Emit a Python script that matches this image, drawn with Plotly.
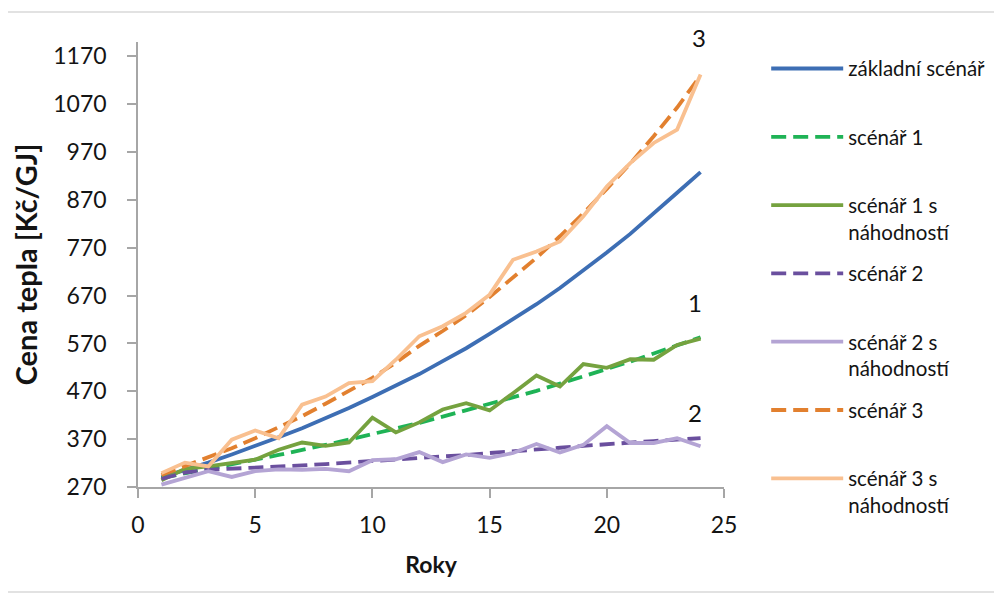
import plotly.graph_objects as go

years = list(range(1, 25))
zakladni = [290, 305, 321, 338, 355, 374, 393, 413, 435, 458, 481, 506, 533, 560, 590, 620, 652, 686, 722, 760, 799, 841, 885, 928]
scenar1 = [289, 298, 307, 317, 327, 337, 347, 358, 369, 380, 392, 404, 417, 430, 443, 457, 471, 486, 501, 516, 532, 549, 566, 583]
scenar1_nah = [284, 308, 313, 320, 327, 348, 363, 356, 363, 415, 384, 405, 432, 445, 430, 466, 503, 480, 527, 519, 537, 536, 567, 580]
scenar2 = [287, 300, 306, 308, 310, 312, 315, 318, 321, 324, 327, 330, 334, 337, 341, 344, 348, 352, 356, 360, 363, 366, 369, 372]
scenar2_nah = [275, 289, 303, 291, 303, 307, 306, 308, 303, 326, 328, 343, 322, 338, 331, 341, 360, 342, 358, 397, 362, 362, 372, 355]
scenar3 = [295, 313, 331, 351, 372, 395, 418, 444, 470, 498, 530, 565, 596, 629, 667, 707, 749, 794, 842, 893, 946, 1003, 1063, 1130]
scenar3_nah = [299, 321, 313, 369, 388, 372, 442, 459, 487, 491, 536, 585, 606, 634, 672, 745, 762, 783, 836, 898, 947, 989, 1017, 1132]

y_ticks = [270, 370, 470, 570, 670, 770, 870, 970, 1070, 1170]
x_ticks = [0, 5, 10, 15, 20, 25]

series = [
    ("základní scénář<br> ", zakladni, "#3d6eb4", None),
    ("scénář 1<br> ", scenar1, "#1fb356", "15px,7px"),
    ("scénář 1 s<br>náhodností", scenar1_nah, "#75a23f", None),
    ("scénář 2<br> ", scenar2, "#6a4f9e", "15px,7px"),
    ("scénář 2 s<br>náhodností", scenar2_nah, "#b4a4d4", None),
    ("scénář 3<br> ", scenar3, "#e2802f", "15px,7px"),
    ("scénář 3 s<br>náhodností", scenar3_nah, "#f9c090", None),
]

labels = [("1", 23.75, 655, "y"), ("2", 23.75, 425, "y"), ("3", 23.95, 1.009, "paper")]

FONT = "Lato"
fig = go.Figure()
for i, (name, vals, color, dash) in enumerate(series):
    fig.add_trace(go.Scatter(
        x=years, y=vals, mode="lines", name=name, legendgroup=f"g{i}",
        line=dict(color=color, width=3.8, dash=dash),
    ))

for txt, lx, ly, yr in labels:
    fig.add_annotation(x=lx, y=ly, xref="x", yref=yr, text=txt, showarrow=False,
                       yanchor="middle", xanchor="center",
                       font=dict(family=FONT, size=24, color="#111111"))

fig.add_shape(type="rect", xref="paper", yref="paper",
              x0=-0.2235, x1=1.4625, y0=-0.236, y1=1.0674,
              line=dict(color="#d9d9d9", width=1.5), fillcolor="rgba(0,0,0,0)", layer="below")

fig.update_layout(
    width=1002, height=601,
    margin=dict(l=130, r=286, t=34, b=122),
    paper_bgcolor="white", plot_bgcolor="white",
    font=dict(family=FONT, size=23, color="#141414"),
    showlegend=True,
    legend=dict(x=1.072, y=0.985, xanchor="left", yanchor="top",
                font=dict(family=FONT, size=20.5, color="#141414"),
                itemwidth=72, valign="top", tracegroupgap=12, maxheight=580,
                bgcolor="rgba(0,0,0,0)"),
    xaxis=dict(range=[0, 25], tickvals=x_ticks, showgrid=False, zeroline=False,
               showline=True, linecolor="#a6a6a6", linewidth=1.5,
               ticks="outside", ticklen=9, tickcolor="#a6a6a6", tickwidth=1.5,
               ticklabelstandoff=8,
               title=dict(text="<b>Roky</b>", font=dict(family=FONT, size=23), standoff=20)),
    yaxis=dict(range=[270, 1200], tickvals=y_ticks, showgrid=False, zeroline=False,
               showline=True, linecolor="#a6a6a6", linewidth=1.5,
               ticks="outside", ticklen=9, tickcolor="#a6a6a6", tickwidth=1.5,
               ticklabelstandoff=16,
               title=dict(text="<b>Cena tepla [Kč/GJ]</b>", font=dict(family=FONT, size=29), standoff=8)),
)

fig.write_html("out.html")
